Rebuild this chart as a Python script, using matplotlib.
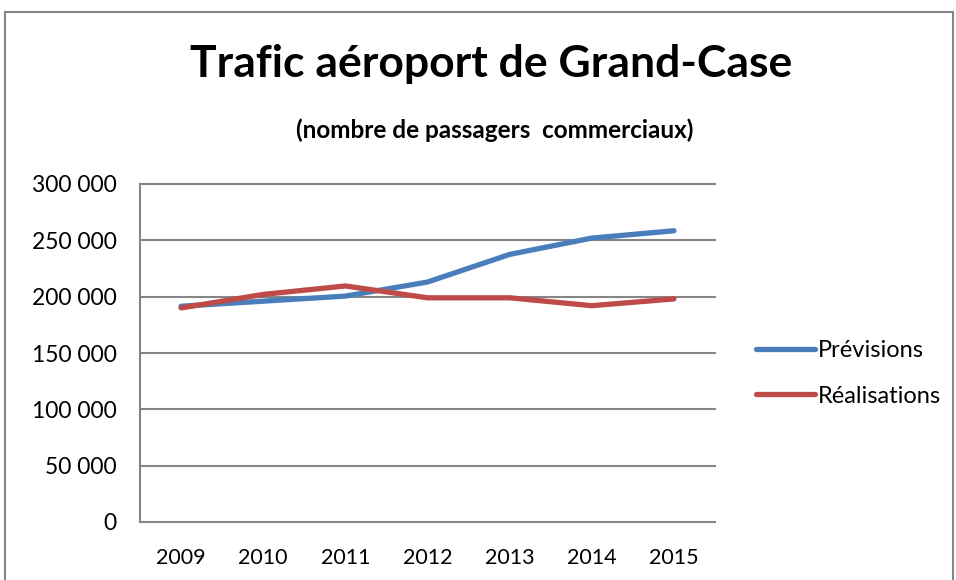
import matplotlib
matplotlib.use("Agg")
from matplotlib import pyplot
from matplotlib.patches import Rectangle

years = ["2009", "2010", "2011", "2012", "2013", "2014", "2015"]
previsions = [191500, 196000, 200500, 213000, 237500, 252000, 258500]
realisations = [190000, 202000, 209500, 199000, 199000, 192000, 198000]
y_ticks = [0, 50000, 100000, 150000, 200000, 250000, 300000]
y_labels = ["0", "50 000", "100 000", "150 000", "200 000", "250 000", "300 000"]

pyplot.rcParams['font.family'] = ['Lato', 'DejaVu Sans']

fig = pyplot.figure(figsize=(9.56, 5.8), dpi=100)
fig.patches.append(Rectangle((5 / 956, -0.1), 948 / 956, 1.1 - 12 / 580,
                             transform=fig.transFigure, fill=False,
                             edgecolor="#868686", linewidth=1.5))

ax = fig.add_axes([140 / 956, 58 / 580, 575 / 956, 338 / 580])
x = range(len(years))
ax.plot(x, previsions, color="#4A7EBB", linewidth=3.8, solid_capstyle="round", label="Prévisions")
ax.plot(x, realisations, color="#BE4B48", linewidth=3.8, solid_capstyle="round", label="Réalisations")

ax.set_xlim(-0.5, len(years) - 0.5)
ax.set_ylim(0, 300000)
ax.set_xticks(list(x))
ax.set_xticklabels(years, fontsize=15.5)
ax.set_yticks(y_ticks)
ax.set_yticklabels(y_labels, fontsize=16.5)
ax.tick_params(length=0)
ax.tick_params(axis="x", pad=19)
ax.tick_params(axis="y", pad=17)
ax.grid(True, axis="y", color="#868686", linewidth=1.5)
for line in ax.get_ygridlines():
    line.set_clip_on(False)
ax.set_axisbelow(True)
for side in ("top", "right", "bottom"):
    ax.spines[side].set_visible(False)
ax.spines["left"].set_color("#868686")
ax.spines["left"].set_linewidth(1.5)

fig.text(491 / 956, 1 - 64 / 580, "Trafic aéroport de Grand-Case", ha="center", va="center",
         fontsize=32, fontweight="bold")
fig.text(495 / 956, 1 - 130 / 580, "(nombre de passagers  commerciaux)", ha="center", va="center",
         fontsize=17.5, fontweight="bold")

ax.legend(loc="center left", bbox_to_anchor=(1.035, 0.44), frameon=False, fontsize=17,
          handlelength=2.5, handletextpad=0.1, labelspacing=1.05)

fig.savefig("out.png", dpi=100)
